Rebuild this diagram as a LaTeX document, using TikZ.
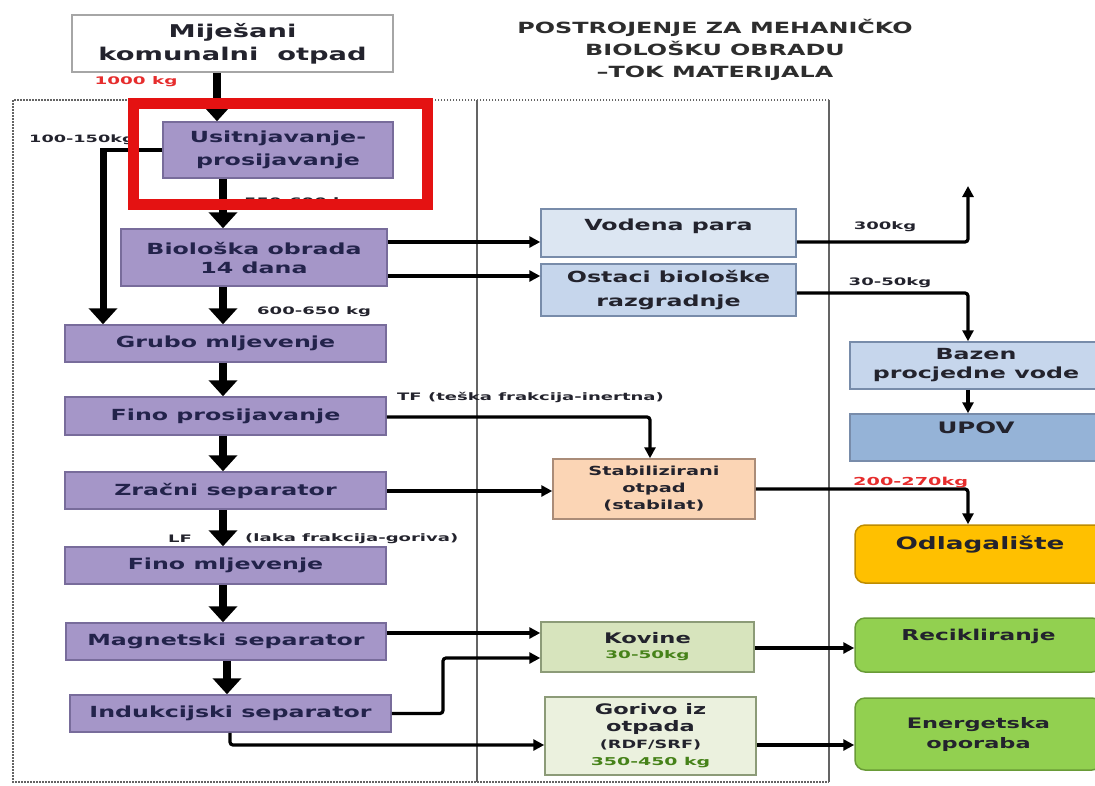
\documentclass[tikz,border=0pt]{standalone}
\usepackage{fontspec}
\setmainfont{DejaVu Sans}[FakeStretch=1.55]
\newfontfamily\smfont{DejaVu Sans}[FakeStretch=1.75]
\usetikzlibrary{arrows.meta}
\definecolor{purp}{RGB}{165,150,200}
\definecolor{purpd}{RGB}{120,108,155}
\definecolor{navy}{RGB}{35,35,75}
\definecolor{dark}{RGB}{35,35,45}
\definecolor{lblue}{RGB}{220,230,242}
\definecolor{mblue}{RGB}{198,214,236}
\definecolor{dblue}{RGB}{149,179,215}
\definecolor{bluebd}{RGB}{120,140,170}
\definecolor{peach}{RGB}{251,213,181}
\definecolor{peachbd}{RGB}{170,140,120}
\definecolor{gold}{RGB}{255,192,0}
\definecolor{goldbd}{RGB}{190,140,0}
\definecolor{kov}{RGB}{215,228,189}
\definecolor{gor}{RGB}{235,241,222}
\definecolor{lgbd}{RGB}{140,155,120}
\definecolor{grn}{RGB}{146,208,80}
\definecolor{grnbd}{RGB}{105,155,55}
\definecolor{grntxt}{RGB}{70,130,25}
\definecolor{redlbl}{RGB}{230,45,45}
\definecolor{redbox}{RGB}{228,18,18}
\definecolor{framegray}{RGB}{100,100,100}
\definecolor{titlegray}{RGB}{45,45,45}
\newcommand\bxf[2]{\fontsize{#1}{#2}\selectfont\bfseries}
\newcommand\smf[1]{\smfont\fontsize{#1}{#1}\selectfont\bfseries}
\begin{document}
\begin{tikzpicture}[x=1pt,y=-1pt,
  base/.style={inner sep=0pt, align=center, line width=1.5pt},
  pbox/.style={base, draw=purpd, fill=purp, text=navy, font=\bxf{15.3}{20}},
  bbox/.style={base, draw=bluebd, text=dark, font=\bxf{15.3}{20}},
  gbox/.style={base, draw=grnbd, fill=grn, text=dark, rounded corners=10pt, font=\bxf{15}{20}},
  lbl/.style={inner sep=0pt, text=dark, font=\smf{10.3}},
  tarrow/.style={line width=8pt, draw=black, -{Triangle[width=28pt,length=16pt]}},
  tharrow/.style={line width=3.2pt, draw=black, rounded corners=3pt, -{Triangle[width=11pt,length=11pt]}},
  thinline/.style={line width=3.2pt, draw=black}
]
\path[use as bounding box, fill=white] (0,0) rectangle (1095,785);
\clip (0,0) rectangle (1095,785);

% frame
\draw[framegray, line width=1.2pt, dash pattern=on 1.5pt off 1.5pt] (829,100) -- (13,100) -- (13,782) -- (829,782);
\draw[framegray, line width=1.2pt] (477,100) -- (477,782) (829,100) -- (829,782);

% title
\node[inner sep=0pt, align=center, text=titlegray, font=\bxf{15.4}{22}] (title) at (715,50)
  {POSTROJENJE ZA MEHANIČKO\\BIOLOŠKU OBRADU\\–TOK MATERIJALA};

% left column
\node[base, draw=gray!70, fill=white, text=dark, font=\bxf{17.6}{23}, minimum width=321pt, minimum height=57pt] (top) at (232.5,43.5) {Miješani\\komunalni\ \ otpad};
\node[pbox, font=\bxf{15.3}{23}, minimum width=230pt, minimum height=56pt] (usit) at (278,150) {Usitnjavanje-\\prosijavanje};
\node[pbox, font=\bxf{15.3}{19}, minimum width=266pt, minimum height=57pt] (bio) at (254,257.5) {Biološka obrada\\14 dana};
\node[pbox, minimum width=321pt, minimum height=37pt] (grubo) at (225.5,343.5) {Grubo mljevenje};
\node[pbox, minimum width=321pt, minimum height=38pt] (finop) at (225.5,416) {Fino prosijavanje};
\node[pbox, minimum width=321pt, minimum height=37pt] (zrac) at (225.5,490.5) {Zračni separator};
\node[pbox, minimum width=321pt, minimum height=37pt] (finom) at (225.5,565.5) {Fino mljevenje};
\node[pbox, minimum width=320pt, minimum height=37pt] (magn) at (226,641.5) {Magnetski separator};
\node[pbox, minimum width=321pt, minimum height=37pt] (induk) at (230.5,713.5) {Indukcijski separator};

% middle column
\node[bbox, fill=lblue, minimum width=255pt, minimum height=48pt, text depth=16pt] (vodena) at (668.5,233) {Vodena para};
\node[bbox, fill=mblue, font=\bxf{15.3}{24}, minimum width=255pt, minimum height=52pt] (ostaci) at (668.5,290) {Ostaci biološke\\razgradnje};
\node[base, draw=peachbd, fill=peach, text=dark, font=\bxf{12.5}{17}, minimum width=202pt, minimum height=60pt] (stab) at (654,489) {Stabilizirani\\otpad\\(stabilat)};
\node[base, draw=lgbd, fill=kov, text=dark, font=\bxf{14.6}{15}, minimum width=213pt, minimum height=50pt] (kovine) at (647.5,647) {Kovine\\{\smf{10.5}\color{grntxt}30-50kg}};
\node[base, draw=lgbd, fill=gor, text=dark, font=\bxf{14.5}{17}, minimum width=211pt, minimum height=78pt] (gorivo) at (650.5,736)
  {Gorivo iz\\otpada\\{\bxf{11.4}{17}(RDF/SRF)}\\{\smf{10.8}\color{grntxt}350-450 kg}};

% right column
\node[bbox, fill=mblue, font=\bxf{15.3}{19}, minimum width=252pt, minimum height=47pt] (bazen) at (976,365.5) {Bazen\\procjedne vode};
\node[bbox, fill=dblue, font=\bxf{15.8}{20}, minimum width=252pt, minimum height=47pt, text depth=19pt] (upov) at (976,437.5) {UPOV};
\node[base, draw=goldbd, fill=gold, text=dark, rounded corners=10pt, font=\bxf{17}{20}, minimum width=250pt, minimum height=58pt, text depth=22pt] (odl) at (980,554) {Odlagalište};
\node[gbox, minimum width=247pt, minimum height=54pt, text depth=20pt] (recik) at (978.5,645) {Recikliranje};
\node[gbox, font=\bxf{14.5}{20}, minimum width=247pt, minimum height=72pt] (energ) at (978.5,734) {Energetska\\oporaba};

% helper coordinates
\coordinate (xtop) at (217,0);
\coordinate (xcol) at (223,0);
\coordinate (xcol2) at (227,0);
\coordinate (xleft) at (103,0);
\coordinate (xr) at (968,0);
\coordinate (xtf) at (650,0);
\coordinate (xi) at (230,0);
\coordinate (yv1) at (0,242);
\coordinate (yv2) at (0,276);
\coordinate (yo) at (0,293);
\coordinate (ytf) at (0,417);
\coordinate (ysz) at (0,491);
\coordinate (ym) at (0,633);
\coordinate (yk) at (0,648);
\coordinate (yg) at (0,745);
\coordinate (steam) at (968,186);
\coordinate (kbend) at (443,658);

% main column arrows
\draw[tarrow] (top.south -| xtop) -- (usit.north -| xtop);
\draw[tarrow] (usit.south -| xcol) -- (bio.north -| xcol);
\draw[tarrow] (bio.south -| xcol) -- (grubo.north -| xcol);
\draw[tarrow] (grubo.south -| xcol) -- (finop.north -| xcol);
\draw[tarrow] (finop.south -| xcol) -- (zrac.north -| xcol);
\draw[tarrow] (zrac.south -| xcol) -- (finom.north -| xcol);
\draw[tarrow] (finom.south -| xcol) -- (magn.north -| xcol);
\draw[tarrow] (magn.south -| xcol2) -- (induk.north -| xcol2);

% bypass
\draw[thinline] (usit.west) -- ([xshift=-3pt]usit.west -| xleft);
\draw[tarrow, line width=7pt] ([yshift=-1.6pt]usit.west -| xleft) -- (grubo.north -| xleft);

% side arrows
\draw[tharrow] (bio.east |- yv1) -- (vodena.west |- yv1);
\draw[tharrow] (bio.east |- yv2) -- (ostaci.west |- yv2);
\draw[tharrow] (vodena.east |- yv1) -| (steam);
\draw[tharrow] (ostaci.east |- yo) -| (bazen.north -| xr);
\draw[tharrow] (bazen.south -| xr) -- (upov.north -| xr);
\draw[tharrow] (finop.east |- ytf) -| (stab.north -| xtf);
\draw[tharrow] (zrac.east |- ysz) -- (stab.west |- ysz);
\draw[tharrow] (stab.east) -| (odl.north -| xr);
\draw[tharrow] (magn.east |- ym) -- (kovine.west |- ym);
\draw[tharrow] (induk.east) -| (kbend) -- (kovine.west |- kbend);
\draw[tharrow] (induk.south -| xi) |- (gorivo.west |- yg);
\draw[tharrow] (kovine.east |- yk) -- (recik.west |- yk);
\draw[tharrow] (gorivo.east |- yg) -- (energ.west |- yg);

% labels
\node[lbl, text=redlbl, font=\smf{10.5}] (l1000) at (136,82) {1000 kg};
\node[lbl, anchor=west, font=\smf{10.1}] (l100) at (29,140) {100-150kg};
\node[lbl] (l550) at (301,203) {550-600 kg};
\node[lbl, anchor=west] (l600) at (257,312) {600-650 kg};
\node[lbl] (l300) at (885,227) {300kg};
\node[lbl] (l3050) at (890,283) {30-50kg};
\node[lbl, anchor=west] (ltf) at (397,397) {TF (teška frakcija-inertna)};
\node[lbl, anchor=west, text=redlbl, font=\smf{11}] (l200) at (853,482) {200-270kg};
\node[lbl] (llf) at (180,539) {LF};
\node[lbl, anchor=west] (llaka) at (245,539) {(laka frakcija-goriva)};

% red highlight
\node[draw=redbox, line width=11pt, inner sep=0pt, minimum width=294pt, minimum height=101pt] (hl) at (280.5,154) {};
\end{tikzpicture}
\end{document}
